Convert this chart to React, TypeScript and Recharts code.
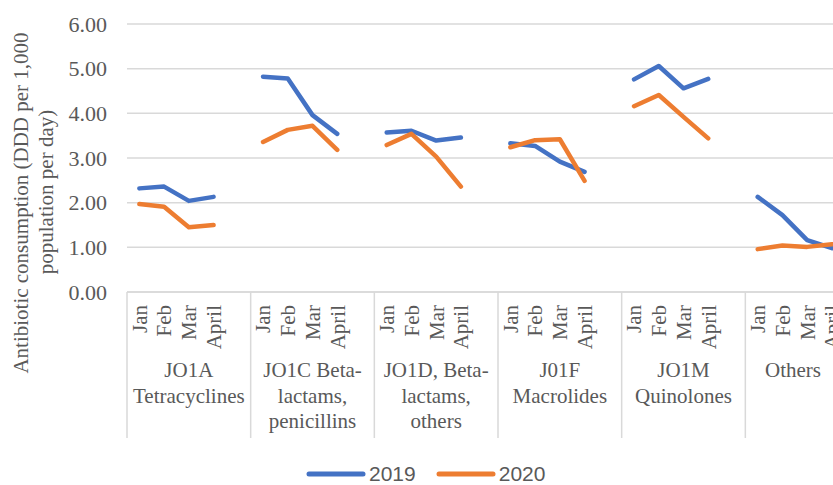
import React from 'react';
import { LineChart, Line, XAxis, YAxis, CartesianGrid, Legend } from 'recharts';

const months = ['Jan', 'Feb', 'Mar', 'April'];
const groupLabels: string[][] = [
  ['JO1A', 'Tetracyclines'],
  ['JO1C Beta-', 'lactams,', 'penicillins'],
  ['JO1D, Beta-', 'lactams,', 'others'],
  ['J01F', 'Macrolides'],
  ['JO1M', 'Quinolones'],
  ['Others'],
];
const values2019: number[][] = [
  [2.32, 2.36, 2.04, 2.13],
  [4.82, 4.78, 3.96, 3.54],
  [3.57, 3.61, 3.39, 3.46],
  [3.33, 3.27, 2.92, 2.69],
  [4.76, 5.06, 4.56, 4.77],
  [2.13, 1.72, 1.16, 0.98],
];
const values2020: number[][] = [
  [1.97, 1.91, 1.45, 1.5],
  [3.36, 3.63, 3.72, 3.18],
  [3.29, 3.54, 3.03, 2.36],
  [3.24, 3.4, 3.42, 2.49],
  [4.16, 4.41, 3.92, 3.44],
  [0.96, 1.04, 1.01, 1.07],
];
const yTicks = [0, 1, 2, 3, 4, 5, 6];
const seriesNames = ['2019', '2020'];
const seriesColors = ['#4472C4', '#ED7D31'];

type Row = { key: string; month: string; group: number; y2019: number | null; y2020: number | null };
const data: Row[] = [];
groupLabels.forEach((_, g) => {
  months.forEach((m, i) => {
    data.push({ key: `${g}-${m}`, month: m, group: g, y2019: values2019[g][i], y2020: values2020[g][i] });
  });
  data.push({ key: `${g}-gap`, month: '', group: g, y2019: null, y2020: null });
});

const W = 900;
const H = 485;
const VISIBLE_W = 833;
const LEGEND_H = 28;
const MARGIN = { top: 24, right: 31, bottom: 47 - LEGEND_H, left: 0 };
const Y_AXIS_W = 127;
const X_AXIS_H = 146;
const PLOT_W = W - MARGIN.left - MARGIN.right - Y_AXIS_W;
const SLOT = PLOT_W / data.length;
const GROUP_W = SLOT * (months.length + 1);

const SERIF = "'Liberation Serif', 'Times New Roman', serif";
const TEXT = '#595959';
const GRID = '#d9d9d9';

const MonthTick = (props: any) => {
  const { x, y, index } = props;
  const row = data[index];
  const isFirst = index % (months.length + 1) === 0;
  const labels = groupLabels[row.group];
  const cx = Math.min(x - SLOT / 2 + GROUP_W / 2, VISIBLE_W - 40);
  return (
    <g>
      {row.month !== '' && (
        <text
          x={x}
          y={y + 13}
          transform={`rotate(-90, ${x}, ${y + 13})`}
          textAnchor="end"
          dy="0.35em"
          fontSize={21}
          fontFamily={SERIF}
          fill={TEXT}
        >
          {row.month}
        </text>
      )}
      {isFirst && (
        <line x1={x - SLOT / 2} x2={x - SLOT / 2} y1={y} y2={y + X_AXIS_H} stroke={GRID} strokeWidth={1.5} />
      )}
      {isFirst &&
        labels.map((l, i) => (
          <text
            key={i}
            x={cx}
            y={y + 85 + i * 25.5}
            textAnchor="middle"
            fontSize={21}
            fontFamily={SERIF}
            fill={TEXT}
          >
            {l}
          </text>
        ))}
    </g>
  );
};

const ValueTick = (props: any) => {
  const { x, y, payload } = props;
  return (
    <text x={x} y={y} dy="0.35em" textAnchor="end" fontSize={22} fontFamily={SERIF} fill={TEXT}>
      {Number(payload.value).toFixed(2)}
    </text>
  );
};

const YTitle = (props: any) => {
  const vb = props.viewBox || { x: 0 };
  const x0 = vb.x || 0;
  const l1x = x0 + 28;
  const l1y = 203;
  const l2x = x0 + 53;
  const l2y = 192;
  return (
    <g>
      <text x={l1x} y={l1y} transform={`rotate(-90, ${l1x}, ${l1y})`} textAnchor="middle" fontSize={21} fontFamily={SERIF} fill={TEXT}>
        Antibiotic consumption (DDD per 1,000
      </text>
      <text x={l2x} y={l2y} transform={`rotate(-90, ${l2x}, ${l2y})`} textAnchor="middle" fontSize={21} fontFamily={SERIF} fill={TEXT}>
        population per day)
      </text>
    </g>
  );
};

const LegendContent = () => (
  <div style={{ display: 'flex', alignItems: 'center', height: LEGEND_H, fontFamily: "'Liberation Sans', Arial, sans-serif", fontSize: 21, color: TEXT }}>
    {seriesNames.map((n, i) => (
      <div key={n} style={{ display: 'flex', alignItems: 'center', marginRight: i === 0 ? 20 : 0 }}>
        <svg width={60} height={10} style={{ marginRight: 3 }}>
          <line x1={3} x2={57} y1={5} y2={5} stroke={seriesColors[i]} strokeWidth={5} strokeLinecap="round" />
        </svg>
        <span>{n}</span>
      </div>
    ))}
  </div>
);

export default function App() {
  return (
    <div style={{ position: 'absolute', left: 0, top: 0, width: VISIBLE_W, height: H, overflow: 'hidden', background: '#fff' }}>
      <LineChart width={W} height={H} data={data} margin={MARGIN}>
        <CartesianGrid vertical={false} stroke={GRID} strokeWidth={1.5} />
        <XAxis
          dataKey="key"
          scale="band"
          interval={0}
          height={X_AXIS_H}
          tickLine={false}
          tickSize={0}
          tickMargin={0}
          axisLine={{ stroke: GRID, strokeWidth: 1.5 }}
          tick={<MonthTick />}
        />
        <YAxis
          width={Y_AXIS_W}
          domain={[0, 6]}
          ticks={yTicks}
          interval={0}
          axisLine={false}
          tickLine={false}
          tickSize={0}
          tickMargin={20}
          tick={<ValueTick />}
          label={{ content: (p: any) => <YTitle {...p} /> }}
        />
        <Legend
          verticalAlign="bottom"
          height={LEGEND_H}
          wrapperStyle={{ position: 'absolute', left: 306, top: 460, width: 300, height: LEGEND_H }}
          content={<LegendContent />}
        />
        <Line type="linear" dataKey="y2019" name="2019" stroke={seriesColors[0]} strokeWidth={4.5} strokeLinecap="round" strokeLinejoin="round" dot={false} activeDot={false} isAnimationActive={false} />
        <Line type="linear" dataKey="y2020" name="2020" stroke={seriesColors[1]} strokeWidth={4.5} strokeLinecap="round" strokeLinejoin="round" dot={false} activeDot={false} isAnimationActive={false} />
      </LineChart>
    </div>
  );
}
